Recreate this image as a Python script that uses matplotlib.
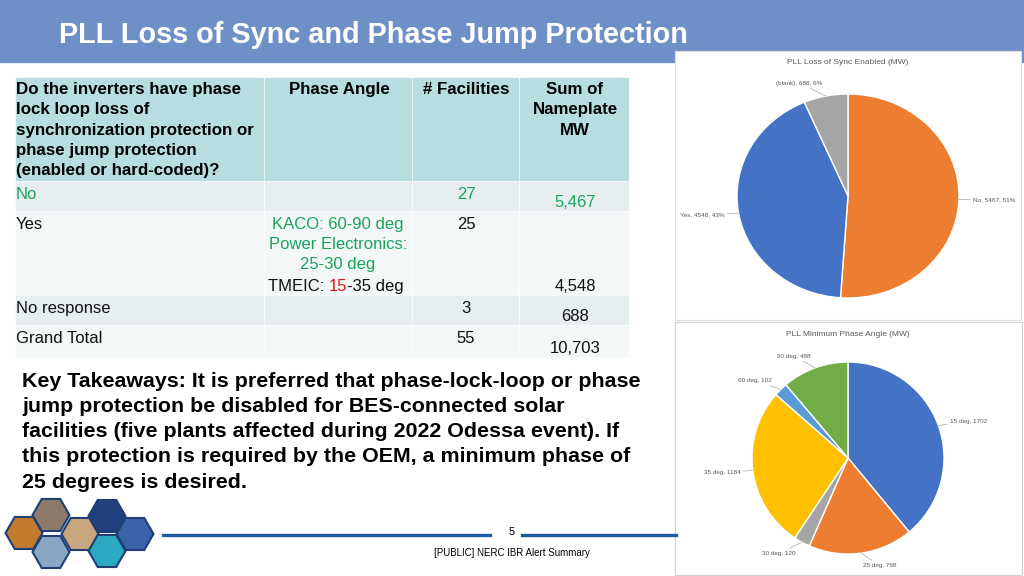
import numpy as np
import matplotlib
matplotlib.use("Agg")
import matplotlib.pyplot as plt
from matplotlib.patches import Rectangle, RegularPolygon

plt.rcParams['font.family'] = ['Liberation Sans', 'DejaVu Sans']

# Tabell-data
table_header = ["Do the inverters have phase\nlock loop loss of\nsynchronization protection or\nphase jump protection\n(enabled or hard-coded)?",
                "Phase Angle", "# Facilities", "Sum of\nNameplate\nMW"]
answers = ["No", "Yes", "No response", "Grand Total"]
facilities = [27, 25, 3, 55]
nameplate_mw = [5467, 4548, 688, 10703]

# Pie-data
sync_labels = ["No", "Yes", "(blank)"]
sync_mw = [5467, 4548, 688]
sync_pct = [51, 43, 6]
angle_labels = ["15 deg", "25 deg", "30 deg", "35 deg", "60 deg", "90 deg"]
angle_mw = [1702, 768, 120, 1184, 102, 488]

takeaways = ("Key Takeaways: It is preferred that phase-lock-loop or phase\n"
             "jump protection be disabled for BES-connected solar\n"
             "facilities (five plants affected during 2022 Odessa event). If\n"
             "this protection is required by the OEM, a minimum phase of\n"
             "25 degrees is desired.")

green = "#1aa35a"
W, H = 1024, 576

fig = plt.figure(figsize=(10.24, 5.76), dpi=100)
bg = fig.add_axes([0, 0, 1, 1])
bg.set_xlim(0, W)
bg.set_ylim(H, 0)
bg.axis("off")

# Rubrik
bg.add_patch(Rectangle((0, 0), W, 62, color="#6f8fc7", zorder=0))
bg.text(59, 35, "PLL Loss of Sync and Phase Jump Protection", color="white",
        fontsize=20.8, fontweight="bold", va="center")

# Tabell
col_edges = [16, 265, 413, 520, 630]
row_edges = [78, 181, 211, 295, 325, 357]
row_fill = ["#e6eef0", "#f3f7f8", "#e6eef0", "#f3f7f8"]
for c in range(4):
    x0, x1 = col_edges[c], col_edges[c + 1] - 2
    bg.add_patch(Rectangle((x0, row_edges[0]), x1 - x0, row_edges[1] - row_edges[0] - 1,
                           color="#b7dde1", zorder=1))
    for r in range(4):
        y0, y1 = row_edges[r + 1] + 1, row_edges[r + 2] - 1
        bg.add_patch(Rectangle((x0, y0), x1 - x0, y1 - y0, color=row_fill[r], zorder=1))

fs_h = 12.2
fs = 12.0
bg.text(16, 82, table_header[0], fontsize=fs_h, fontweight="bold", va="top", linespacing=1.44)
for c in range(1, 4):
    xc = (col_edges[c] + col_edges[c + 1]) / 2
    bg.text(xc, 82, table_header[c], fontsize=fs_h, fontweight="bold", va="top",
            ha="center", linespacing=1.44)

for r in range(4):
    top, bot = row_edges[r + 1], row_edges[r + 2]
    col = green if r == 0 else "#111111"
    bg.text(16, top + 6, answers[r], fontsize=fs, va="top", color=col)
    bg.text(466, top + 6, str(facilities[r]), fontsize=fs, va="top", ha="center", color=col)
    bg.text(575, bot - 1, f"{nameplate_mw[r]:,}", fontsize=fs, va="bottom", ha="center", color=col)

# Phase Angle för "Yes"
bg.text(338, 217, "KACO: 60-90 deg\nPower Electronics:\n25-30 deg", fontsize=fs,
        va="top", ha="center", color=green, linespacing=1.42)
t1 = bg.text(268, 294, "TMEIC: ", fontsize=fs, va="bottom", color="#111111")
t2 = bg.annotate("15", xy=(1, 0), xycoords=t1, va="bottom", fontsize=fs, color="#e8141b")
bg.annotate("-35 deg", xy=(1, 0), xycoords=t2, va="bottom", fontsize=fs, color="#111111")

# Key takeaways
bg.text(22, 372, takeaways, fontsize=15.4, fontweight="bold", va="top", linespacing=1.41)

# Sidfot
bg.plot([163, 490], [535, 535], color="#1f5aa6", lw=2.4)
bg.plot([522, 676], [535, 535], color="#1f5aa6", lw=2.4)
bg.text(512, 532, "5", fontsize=8, ha="center", va="center")
bg.text(512, 553, "[PUBLIC] NERC IBR Alert Summary", fontsize=7, ha="center", va="center")

# Logo med hexagoner
hex_pos = [(24, 533), (51, 515), (51, 552), (80, 534), (107, 516), (107, 551), (135, 534)]
hex_col = ["#c27a2c", "#8c7b6b", "#8aa6c4", "#c9a77e", "#21407f", "#2ba9c2", "#3a62a8"]
for (hx, hy), hc in zip(hex_pos, hex_col):
    bg.add_patch(RegularPolygon((hx, hy), 6, radius=18.5, orientation=np.pi / 6,
                                facecolor=hc, edgecolor="#1f3f75", lw=1.5, zorder=2))

# Pie-paneler
bg.add_patch(Rectangle((675, 51), 346, 269, facecolor="white", edgecolor="#e0e0e0", lw=0.8, zorder=1))
bg.add_patch(Rectangle((675, 322), 347, 253, facecolor="white", edgecolor="#d0d0d0", lw=0.8, zorder=1))
bg.text(848, 62, "PLL Loss of Sync Enabled (MW)", fontsize=6, color="#595959", ha="center", va="center")
bg.text(848, 334, "PLL Minimum Phase Angle (MW)", fontsize=6, color="#595959", ha="center", va="center")


def pie_ax(cx, cy, rx, ry):
    return fig.add_axes([(cx - rx) / W, 1 - (cy + ry) / H, 2 * rx / W, 2 * ry / H])


def add_labels(ax, wedges, texts, dist=1.13):
    for w, t in zip(wedges, texts):
        th = np.deg2rad((w.theta1 + w.theta2) / 2)
        x, y = np.cos(th), np.sin(th)
        ax.annotate(t, xy=(x, y), xytext=(dist * x, dist * y),
                    ha="left" if x > 0 else "right", va="center", fontsize=4.6,
                    color="#595959", annotation_clip=False,
                    arrowprops=dict(arrowstyle="-", color="#a6a6a6", lw=0.5,
                                    shrinkA=0, shrinkB=0))


ax1 = pie_ax(848, 196, 111, 102)
w1, _ = ax1.pie(sync_mw, startangle=90, counterclock=False,
                colors=["#ed7d31", "#4472c4", "#a5a5a5"],
                wedgeprops=dict(edgecolor="white", linewidth=1))
ax1.set_aspect("auto")
ax1.set_xlim(-1, 1)
ax1.set_ylim(-1, 1)
add_labels(ax1, w1, [f"{l}, {v}, {p}%" for l, v, p in zip(sync_labels, sync_mw, sync_pct)])

ax2 = pie_ax(848, 458, 96, 96)
w2, _ = ax2.pie(angle_mw, startangle=90, counterclock=False,
                colors=["#4472c4", "#ed7d31", "#a5a5a5", "#ffc000", "#5b9bd5", "#70ad47"],
                wedgeprops=dict(edgecolor="white", linewidth=1))
ax2.set_aspect("auto")
ax2.set_xlim(-1, 1)
ax2.set_ylim(-1, 1)
add_labels(ax2, w2, [f"{l}, {v}" for l, v in zip(angle_labels, angle_mw)])

fig.savefig("out.png", dpi=100)
